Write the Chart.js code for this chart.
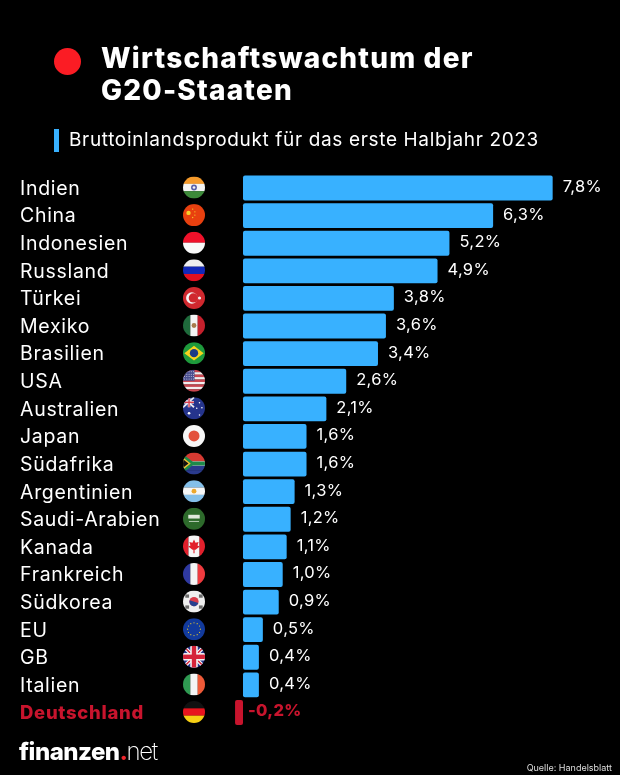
<!DOCTYPE html>
<html lang="de">
<head>
<meta charset="UTF-8">
<title>Wirtschaftswachtum der G20-Staaten</title>
<script src="https://cdn.jsdelivr.net/npm/chart.js@4"></script>
<style>
  html, body { margin: 0; padding: 0; background: #000; }
  body { width: 620px; height: 775px; position: relative; overflow: hidden; font-family: Inter, sans-serif; color: #fff; }
  #chart { position: absolute; left: 0; top: 0; }
  .dot { position: absolute; left: 54px; top: 48px; width: 27px; height: 27px; border-radius: 50%; background: #fb1c24; }
  h1 { position: absolute; left: 101px; top: 43px; margin: 0; font-size: 28px; line-height: 31.5px; font-weight: 800; letter-spacing: 1.2px; white-space: nowrap; }
  .marker { position: absolute; left: 54px; top: 129px; width: 5px; height: 23px; background: #38b1ff; }
  .sub { position: absolute; left: 69px; top: 128px; font-size: 19px; line-height: 24px; letter-spacing: 0.65px; white-space: nowrap; }
  .logo { position: absolute; left: 19px; top: 737px; font-size: 24px; line-height: 30px; font-weight: 800; letter-spacing: -0.5px; white-space: nowrap; }
  .logo i { font-style: normal; color: #f0252c; }
  .logo span { font-weight: 200; letter-spacing: -1.4px; margin-left: -1px; }
  .source { position: absolute; right: 8px; top: 762px; font-size: 9px; line-height: 12px; color: #ddd; white-space: nowrap; }
</style>
</head>
<body>
<canvas id="chart" width="620" height="775"></canvas>
<div class="dot"></div>
<h1>Wirtschaftswachtum der<br>G20-Staaten</h1>
<div class="marker"></div>
<div class="sub">Bruttoinlandsprodukt für das erste Halbjahr 2023</div>
<div class="logo">finanzen<i>.</i><span>net</span></div>
<div class="source">Quelle: Handelsblatt</div>
<script>
const countries = ['Indien', 'China', 'Indonesien', 'Russland', 'Türkei', 'Mexiko', 'Brasilien', 'USA', 'Australien', 'Japan', 'Südafrika', 'Argentinien', 'Saudi-Arabien', 'Kanada', 'Frankreich', 'Südkorea', 'EU', 'GB', 'Italien', 'Deutschland'];
const growth = [7.8, 6.3, 5.2, 4.9, 3.8, 3.6, 3.4, 2.6, 2.1, 1.6, 1.6, 1.3, 1.2, 1.1, 1.0, 0.9, 0.5, 0.4, 0.4, -0.2];
const flagKeys = ['in', 'cn', 'id', 'ru', 'tr', 'mx', 'br', 'us', 'au', 'jp', 'za', 'ar', 'sa', 'ca', 'fr', 'kr', 'eu', 'gb', 'it', 'de'];

const BLUE = '#38b1ff';
const RED = '#c8142d';
const FONT = 'Inter, sans-serif';

// flag painters work in a box from -1 to 1, clipped to the circle
function bandsH(ctx, colors) {
  const h = 2 / colors.length;
  colors.forEach((c, i) => { ctx.fillStyle = c; ctx.fillRect(-1, -1 + i * h, 2, h + 0.01); });
}
function bandsV(ctx, colors) {
  const w = 2 / colors.length;
  colors.forEach((c, i) => { ctx.fillStyle = c; ctx.fillRect(-1 + i * w, -1, w + 0.01, 2); });
}
function disc(ctx, x, y, r, color) {
  ctx.fillStyle = color;
  ctx.beginPath();
  ctx.arc(x, y, r, 0, Math.PI * 2);
  ctx.fill();
}
function poly(ctx, pts, color) {
  ctx.fillStyle = color;
  ctx.beginPath();
  pts.forEach((p, i) => (i ? ctx.lineTo(p[0], p[1]) : ctx.moveTo(p[0], p[1])));
  ctx.closePath();
  ctx.fill();
}

const flags = {
  in(c) { bandsH(c, ['#f59a2b', '#f4f4f4', '#3d8a3a']); disc(c, 0, 0, 0.27, '#5a62a8'); disc(c, 0, 0, 0.12, '#f4f4f4'); },
  cn(c) { bandsH(c, ['#e8400f']); disc(c, -0.5, -0.2, 0.2, '#f5cf2a'); [[-0.12, -0.55], [0.08, -0.3], [0.08, 0], [-0.12, 0.22]].forEach(p => disc(c, p[0], p[1], 0.06, '#f5cf2a')); },
  id(c) { bandsH(c, ['#f0112a', '#f8f8f8']); },
  ru(c) { bandsH(c, ['#eeeeee', '#1228b8', '#e01020']); },
  tr(c) { bandsH(c, ['#d0282e']); disc(c, -0.2, 0, 0.52, '#f4f4f4'); disc(c, -0.06, 0, 0.42, '#d0282e'); disc(c, 0.5, 0, 0.14, '#f4f4f4'); },
  mx(c) { bandsV(c, ['#1f6b3c', '#f4f4f4', '#c5202c']); disc(c, 0, 0, 0.22, '#a87a4c'); },
  br(c) { bandsH(c, ['#1e9a3c']); poly(c, [[-0.88, 0], [0, -0.66], [0.88, 0], [0, 0.66]], '#f6d31e'); disc(c, 0, 0, 0.38, '#1b3a86'); },
  us(c) {
    bandsH(c, ['#c9454f', '#f3eeee', '#c9454f', '#f3eeee', '#c9454f', '#f3eeee', '#c9454f', '#f3eeee', '#c9454f']);
    c.fillStyle = '#4a4f8f';
    c.fillRect(-1, -1, 1.05, 1);
    for (let row = 0; row < 4; row++) for (let col = 0; col < 5; col++) disc(c, -0.85 + col * 0.2, -0.82 + row * 0.22, 0.045, '#fff');
  },
  au(c) {
    bandsH(c, ['#25348c']);
    c.lineWidth = 0.16;
    c.strokeStyle = '#e8e8f0';
    c.beginPath(); c.moveTo(-1, -1); c.lineTo(0, -0.1); c.moveTo(0, -1); c.lineTo(-1, -0.1); c.stroke();
    c.fillStyle = '#e8e8f0';
    c.fillRect(-1, -0.67, 1, 0.24);
    c.fillRect(-0.57, -1, 0.24, 0.9);
    c.fillStyle = '#d83a4a';
    c.fillRect(-1, -0.61, 1, 0.12);
    c.fillRect(-0.51, -1, 0.12, 0.9);
    [[-0.45, 0.45, 0.12], [0.5, -0.5, 0.07], [0.25, 0, 0.07], [0.72, -0.05, 0.07], [0.5, 0.6, 0.07]].forEach(s => disc(c, s[0], s[1], s[2], '#fff'));
  },
  jp(c) { bandsH(c, ['#f6f6f6']); disc(c, 0, 0, 0.5, '#e3513c'); },
  za(c) {
    bandsH(c, ['#d63a32', '#d63a32', '#f2f2f2', '#2a3a8c', '#2a3a8c']);
    c.fillStyle = '#1e8a4a';
    c.fillRect(-0.3, -0.17, 1.3, 0.34);
    poly(c, [[-1.05, -0.9], [0.08, 0], [-1.05, 0.9]], '#1e8a4a');
    poly(c, [[-1.05, -0.6], [-0.3, 0], [-1.05, 0.6]], '#f1c232');
    poly(c, [[-1.05, -0.42], [-0.5, 0], [-1.05, 0.42]], '#111');
  },
  ar(c) { bandsH(c, ['#84bfe9', '#f6f6f6', '#84bfe9']); disc(c, 0, 0, 0.22, '#eda82c'); },
  sa(c) {
    bandsH(c, ['#2d6a2b']);
    c.fillStyle = '#dfe8dc';
    c.fillRect(-0.52, -0.36, 1.04, 0.34);
    c.fillRect(-0.46, 0.2, 0.92, 0.07);
  },
  ca(c) {
    bandsV(c, ['#e2202c', '#f6f6f6', '#f6f6f6', '#e2202c']);
    poly(c, [[0, -0.62], [0.14, -0.32], [0.42, -0.4], [0.32, -0.08], [0.52, 0.02], [0.14, 0.3], [0.05, 0.3], [0.05, 0.62], [-0.05, 0.62], [-0.05, 0.3], [-0.14, 0.3], [-0.52, 0.02], [-0.32, -0.08], [-0.42, -0.4], [-0.14, -0.32]], '#e2202c');
  },
  fr(c) { bandsV(c, ['#2f39a0', '#f4f4f4', '#ef3a3e']); },
  kr(c) {
    bandsH(c, ['#efefef']);
    disc(c, 0, 0, 0.42, '#d83c4a');
    c.fillStyle = '#26408f';
    c.beginPath();
    c.arc(0, 0, 0.42, 0.1 * Math.PI, 1.1 * Math.PI);
    c.fill();
    [[-0.62, -0.5], [0.62, -0.5], [-0.62, 0.5], [0.62, 0.5]].forEach(p => { c.fillStyle = '#6b6b6b'; c.fillRect(p[0] - 0.17, p[1] - 0.15, 0.34, 0.3); });
  },
  eu(c) {
    bandsH(c, ['#123a9c']);
    for (let i = 0; i < 12; i++) {
      const a = (i / 12) * Math.PI * 2;
      disc(c, Math.cos(a) * 0.58, Math.sin(a) * 0.58, 0.055, '#e8c92c');
    }
  },
  gb(c) {
    bandsH(c, ['#24348c']);
    c.lineWidth = 0.34;
    c.strokeStyle = '#f4f4f4';
    c.beginPath(); c.moveTo(-1, -1); c.lineTo(1, 1); c.moveTo(1, -1); c.lineTo(-1, 1); c.stroke();
    c.lineWidth = 0.12;
    c.strokeStyle = '#d5243a';
    c.beginPath(); c.moveTo(-1, -1); c.lineTo(1, 1); c.moveTo(1, -1); c.lineTo(-1, 1); c.stroke();
    c.fillStyle = '#f4f4f4';
    c.fillRect(-1, -0.34, 2, 0.68);
    c.fillRect(-0.34, -1, 0.68, 2);
    c.fillStyle = '#d5243a';
    c.fillRect(-1, -0.2, 2, 0.4);
    c.fillRect(-0.2, -1, 0.4, 2);
  },
  it(c) { bandsV(c, ['#2f9a52', '#f4f4f4', '#ef5a38']); },
  de(c) { bandsH(c, ['#111111', '#e8141e', '#f7cf14']); },
};

// canvas letter spacing, so the Inter tick labels run as wide as the original font
const tickSpacing = {
  id: 'tickSpacing',
  beforeDraw(chart) { chart.ctx.letterSpacing = '0.7px'; },
};

const valueLabels = {
  id: 'valueLabels',
  afterDatasetsDraw(chart) {
    const { ctx, scales } = chart;
    ctx.save();
    ctx.textBaseline = 'middle';
    ctx.letterSpacing = '0.3px';
    growth.forEach((v, i) => {
      const y = scales.y.getPixelForValue(i);
      const x = scales.x.getPixelForValue(Math.max(v, 0));
      const isNeg = v < 0;
      ctx.font = `${isNeg ? 800 : 400} 16.5px ${FONT}`;
      ctx.fillStyle = isNeg ? RED : '#fff';
      ctx.fillText(`${v.toFixed(1).replace('.', ',')}%`, x + (isNeg ? 5 : 10), y - 1);
    });
    ctx.restore();
  },
};

const flagIcons = {
  id: 'flagIcons',
  afterDatasetsDraw(chart) {
    const { ctx, scales } = chart;
    flagKeys.forEach((key, i) => {
      ctx.save();
      ctx.translate(194, scales.y.getPixelForValue(i) - 0.5);
      ctx.scale(11, 11);
      ctx.beginPath();
      ctx.arc(0, 0, 1, 0, Math.PI * 2);
      ctx.clip();
      flags[key](ctx);
      ctx.restore();
    });
  },
};

new Chart(document.getElementById('chart'), {
  type: 'bar',
  data: {
    labels: countries,
    datasets: [{
      data: growth,
      backgroundColor: growth.map(v => (v < 0 ? RED : BLUE)),
      borderRadius: 2,
      borderSkipped: false,
      barPercentage: 0.9,
      categoryPercentage: 1,
    }],
  },
  options: {
    indexAxis: 'y',
    responsive: false,
    animation: false,
    layout: { padding: { left: 20, right: 19.7, top: 174.2, bottom: 48.7 } },
    plugins: { legend: { display: false }, tooltip: { enabled: false } },
    scales: {
      x: { display: false, min: -1, max: 9 },
      y: {
        afterFit(scale) { scale.width = 183.3; },
        border: { display: false },
        grid: { display: false },
        ticks: {
          autoSkip: false,
          crossAlign: 'far',
          padding: 0,
          labelOffset: 1,
          color: ctx => (growth[ctx.index] < 0 ? RED : '#fff'),
          font: ctx => (growth[ctx.index] < 0
            ? { family: FONT, size: 18.5, weight: '800' }
            : { family: FONT, size: 19.5, weight: '400' }),
        },
      },
    },
  },
  plugins: [tickSpacing, valueLabels, flagIcons],
});
</script>
</body>
</html>
